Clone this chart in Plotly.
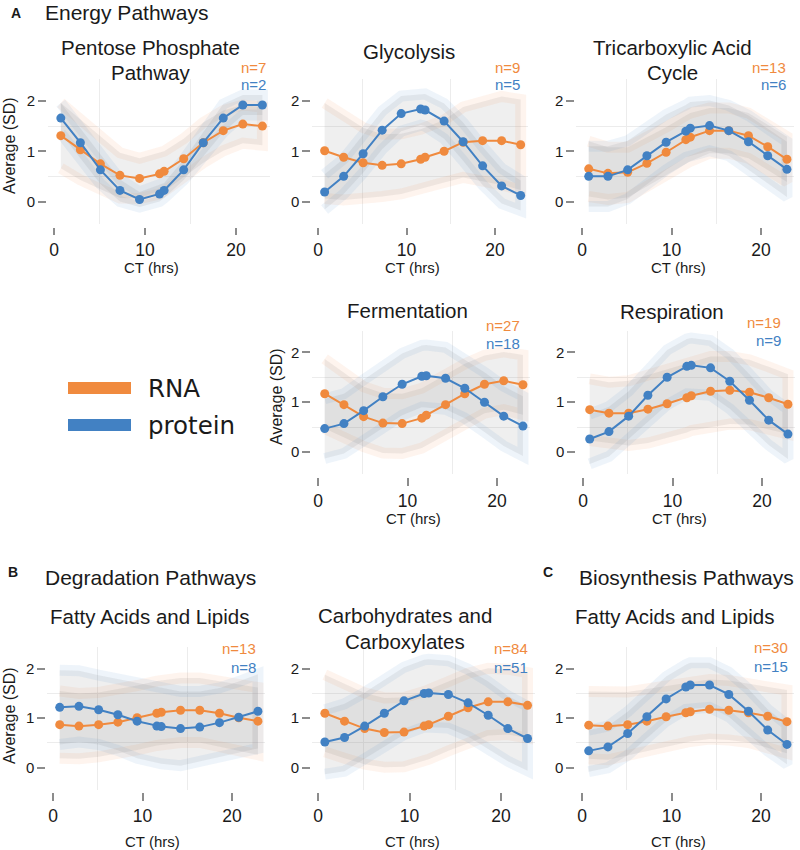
import plotly.graph_objects as go

W, H = 800, 850
ORANGE = "#F08A3E"
BLUE = "#4281C3"
ORANGE_FRINGE = "rgba(240,138,62,0.09)"
BLUE_FRINGE = "rgba(66,129,195,0.09)"
BAND_FILL = "rgba(110,110,110,0.115)"
TEXT = "#1a1a1a"
GRID = "#ececec"
TICK = "#8c8c8c"
FONT = "Liberation Sans, Arial, sans-serif"

# ---------------- data ----------------
ct_hours = [0.75, 2.9, 5.1, 7.25, 9.4, 11.6, 12.1, 14.25, 16.4, 18.6, 20.75, 22.9]
x_ticks = [0, 10, 20]
y_ticks = [0, 1, 2]

panel_titles = [
    ["Pentose Phosphate", "Pathway"], ["Glycolysis"], ["Tricarboxylic Acid", "Cycle"],
    ["Fermentation"], ["Respiration"],
    ["Fatty Acids and Lipids"], ["Carbohydrates and", "Carboxylates"], ["Fatty Acids and Lipids"],
]
n_rna = [7, 9, 13, 27, 19, 13, 84, 30]
n_protein = [2, 5, 6, 18, 9, 8, 51, 15]

rna_ppp = [1.31, 1.03, 0.75, 0.52, 0.46, 0.55, 0.60, 0.85, 1.17, 1.41, 1.54, 1.50]
rna_ppp_sd = [0.65, 0.6, 0.52, 0.45, 0.4, 0.4, 0.4, 0.4, 0.4, 0.4, 0.38, 0.38]
prot_ppp = [1.66, 1.17, 0.63, 0.22, 0.04, 0.15, 0.22, 0.63, 1.17, 1.66, 1.92, 1.92]
prot_ppp_sd = [0.3, 0.3, 0.28, 0.22, 0.15, 0.15, 0.15, 0.2, 0.25, 0.28, 0.2, 0.2]

rna_gly = [1.01, 0.88, 0.77, 0.72, 0.75, 0.84, 0.88, 1.0, 1.18, 1.21, 1.21, 1.13]
rna_gly_sd = [0.95, 0.85, 0.7, 0.62, 0.6, 0.6, 0.6, 0.62, 0.7, 0.8, 0.88, 0.9]
prot_gly = [0.19, 0.5, 0.95, 1.42, 1.75, 1.84, 1.82, 1.6, 1.19, 0.71, 0.31, 0.12]
prot_gly_sd = [0.35, 0.35, 0.38, 0.38, 0.35, 0.32, 0.32, 0.35, 0.38, 0.38, 0.35, 0.3]

rna_tca = [0.65, 0.56, 0.58, 0.76, 0.98, 1.23, 1.28, 1.41, 1.41, 1.31, 1.09, 0.84]
rna_tca_sd = [0.55, 0.52, 0.5, 0.5, 0.5, 0.48, 0.48, 0.45, 0.45, 0.45, 0.45, 0.45]
prot_tca = [0.5, 0.5, 0.63, 0.91, 1.18, 1.4, 1.46, 1.51, 1.41, 1.19, 0.91, 0.64]
prot_tca_sd = [0.6, 0.6, 0.58, 0.55, 0.55, 0.52, 0.52, 0.5, 0.5, 0.52, 0.55, 0.55]

rna_fer = [1.17, 0.95, 0.71, 0.58, 0.57, 0.68, 0.74, 0.95, 1.17, 1.36, 1.43, 1.35]
rna_fer_sd = [0.7, 0.65, 0.6, 0.6, 0.6, 0.6, 0.6, 0.6, 0.6, 0.58, 0.58, 0.6]
prot_fer = [0.47, 0.57, 0.83, 1.11, 1.36, 1.52, 1.53, 1.48, 1.28, 1.0, 0.72, 0.52]
prot_fer_sd = [0.6, 0.6, 0.62, 0.62, 0.62, 0.62, 0.62, 0.62, 0.6, 0.6, 0.6, 0.6]

rna_res = [0.85, 0.78, 0.78, 0.86, 0.97, 1.09, 1.13, 1.22, 1.24, 1.2, 1.09, 0.96]
rna_res_sd = [0.62, 0.62, 0.65, 0.68, 0.7, 0.7, 0.7, 0.7, 0.68, 0.65, 0.62, 0.6]
prot_res = [0.26, 0.41, 0.72, 1.14, 1.5, 1.72, 1.74, 1.69, 1.42, 1.04, 0.64, 0.36]
prot_res_sd = [0.5, 0.5, 0.5, 0.52, 0.55, 0.55, 0.55, 0.55, 0.55, 0.52, 0.5, 0.5]

rna_dfa = [0.87, 0.84, 0.87, 0.92, 1.01, 1.1, 1.12, 1.16, 1.16, 1.1, 1.01, 0.94]
rna_dfa_sd = [0.68, 0.66, 0.65, 0.65, 0.65, 0.65, 0.65, 0.65, 0.65, 0.65, 0.66, 0.68]
prot_dfa = [1.22, 1.24, 1.17, 1.07, 0.94, 0.84, 0.83, 0.79, 0.82, 0.91, 1.02, 1.14]
prot_dfa_sd = [0.75, 0.72, 0.7, 0.72, 0.75, 0.75, 0.75, 0.75, 0.72, 0.7, 0.72, 0.75]

rna_cho = [1.1, 0.94, 0.79, 0.71, 0.72, 0.84, 0.87, 1.04, 1.21, 1.33, 1.33, 1.26]
rna_cho_sd = [0.78, 0.75, 0.72, 0.7, 0.7, 0.7, 0.7, 0.7, 0.7, 0.68, 0.66, 0.66]
prot_cho = [0.52, 0.61, 0.84, 1.1, 1.35, 1.5, 1.51, 1.48, 1.31, 1.06, 0.79, 0.59]
prot_cho_sd = [0.65, 0.68, 0.68, 0.68, 0.68, 0.68, 0.68, 0.68, 0.68, 0.68, 0.66, 0.65]

rna_bfa = [0.86, 0.84, 0.87, 0.94, 1.03, 1.11, 1.13, 1.18, 1.16, 1.11, 1.04, 0.93]
rna_bfa_sd = [0.68, 0.68, 0.66, 0.65, 0.62, 0.6, 0.6, 0.6, 0.6, 0.6, 0.62, 0.64]
prot_bfa = [0.34, 0.42, 0.69, 1.03, 1.39, 1.63, 1.67, 1.67, 1.48, 1.14, 0.76, 0.47]
prot_bfa_sd = [0.42, 0.42, 0.44, 0.45, 0.45, 0.45, 0.45, 0.45, 0.45, 0.45, 0.42, 0.4]

rna_means = [rna_ppp, rna_gly, rna_tca, rna_fer, rna_res, rna_dfa, rna_cho, rna_bfa]
rna_sds = [rna_ppp_sd, rna_gly_sd, rna_tca_sd, rna_fer_sd, rna_res_sd, rna_dfa_sd, rna_cho_sd, rna_bfa_sd]
prot_means = [prot_ppp, prot_gly, prot_tca, prot_fer, prot_res, prot_dfa, prot_cho, prot_bfa]
prot_sds = [prot_ppp_sd, prot_gly_sd, prot_tca_sd, prot_fer_sd, prot_res_sd, prot_dfa_sd, prot_cho_sd, prot_bfa_sd]

# ---------------- layout geometry (page pixels) ----------------
XR = [-0.7, 23.7]
YR = [-0.45, 2.43]
panel_row = [0, 0, 0, 1, 1, 2, 2, 2]
zero_x_px = [54, 318, 582, 318, 583, 53, 318, 582]
scale_x_px = [9.1, 8.85, 8.95, 8.95, 8.95, 8.95, 9.15, 8.95]
row_zero_y = [201.5, 452, 767.7]
row_scale_y = [50.25, 49.8, 49.5]
row_ticklen = [7, 8, 8]

title_cx = [150, 409, 672, 407, 671.5, 149, 405, 674]
title_y = [[47.5, 72], [51], [47.5, 72.5], [310.5], [311.5], [616.5], [615, 641.5], [616.5]]
n_right_x = [268, 522, 788, 522, 783, 258, 530, 790]
n_rna_y = [67, 67, 67, 325, 322, 648, 648, 647]
n_prot_y = [85, 85, 85, 343, 341, 667, 667, 666]
xtitle_cx = [151, 412, 678, 413, 679, 152, 412.5, 678.5]
xtitle_y = [267, 267, 267, 518, 518, 841, 841, 841]
ytitle_panels = {0: (9, 146), 3: (276, 397), 5: (9, 716)}


def px_x(px):
    return px / W


def px_y(py):
    return 1 - py / H


fig = go.Figure()
annotations = []
shapes = []
layout_axes = {}

for i in range(8):
    suf = "" if i == 0 else str(i + 1)
    xa, ya = "x" + suf, "y" + suf
    r = panel_row[i]
    left = zero_x_px[i] + XR[0] * scale_x_px[i]
    right = zero_x_px[i] + XR[1] * scale_x_px[i]
    top = row_zero_y[r] - YR[1] * row_scale_y[r]
    bottom = row_zero_y[r] - YR[0] * row_scale_y[r]

    series = [
        (rna_means[i], rna_sds[i], ORANGE, ORANGE_FRINGE),
        (prot_means[i], prot_sds[i], BLUE, BLUE_FRINGE),
    ]
    for mean, sd, col, fringe in series:
        upper = [m + s for m, s in zip(mean, sd)]
        lower = [m - s for m, s in zip(mean, sd)]
        fig.add_trace(go.Scatter(
            x=ct_hours + ct_hours[::-1], y=upper + lower[::-1],
            fill="toself", fillcolor=BAND_FILL, mode="lines",
            line=dict(color=fringe, width=11), hoverinfo="skip",
            showlegend=False, xaxis=xa, yaxis=ya))
    for mean, sd, col, fringe in series:
        fig.add_trace(go.Scatter(
            x=ct_hours, y=mean, mode="lines+markers",
            line=dict(color=col, width=2), marker=dict(color=col, size=9),
            showlegend=False, xaxis=xa, yaxis=ya))

    layout_axes["xaxis" + suf] = dict(
        domain=[px_x(left), px_x(right)], range=XR, anchor="free",
        position=px_y(bottom + 2.5), tickmode="array", tickvals=x_ticks,
        ticks="outside", ticklen=row_ticklen[r], tickwidth=2, tickcolor=TICK,
        tickfont=dict(size=17.5, color=TEXT, family=FONT),
        showgrid=False, zeroline=False, showline=False, fixedrange=True,
        minor=dict(tickmode="array", tickvals=[5, 15], showgrid=True,
                   gridcolor=GRID, gridwidth=1, ticks=""))
    layout_axes["yaxis" + suf] = dict(
        domain=[px_y(bottom), px_y(top)], range=YR, anchor="free",
        position=px_x(left - 1.5), tickmode="array", tickvals=y_ticks,
        ticks="outside", ticklen=8, tickwidth=2, tickcolor=TICK,
        tickfont=dict(size=15, color=TEXT, family=FONT),
        showgrid=False, zeroline=False, showline=False, fixedrange=True,
        minor=dict(tickmode="array", tickvals=[0.5, 1.5], showgrid=True,
                   gridcolor=GRID, gridwidth=1, ticks=""))

    for line, ty in zip(panel_titles[i], title_y[i]):
        annotations.append(dict(text=line, x=px_x(title_cx[i]), y=px_y(ty),
                                xref="paper", yref="paper", xanchor="center", yanchor="middle",
                                showarrow=False, font=dict(size=20.5, color=TEXT, family=FONT)))
    annotations.append(dict(text=f"n={n_rna[i]}", x=px_x(n_right_x[i]), y=px_y(n_rna_y[i]),
                            xref="paper", yref="paper", xanchor="right", yanchor="middle",
                            showarrow=False, font=dict(size=15, color=ORANGE, family=FONT)))
    annotations.append(dict(text=f"n={n_protein[i]}", x=px_x(n_right_x[i]), y=px_y(n_prot_y[i]),
                            xref="paper", yref="paper", xanchor="right", yanchor="middle",
                            showarrow=False, font=dict(size=15, color=BLUE, family=FONT)))
    annotations.append(dict(text="CT (hrs)", x=px_x(xtitle_cx[i]), y=px_y(xtitle_y[i]),
                            xref="paper", yref="paper", xanchor="center", yanchor="middle",
                            showarrow=False, font=dict(size=15, color=TEXT, family=FONT)))
    if i in ytitle_panels:
        tx, tyy = ytitle_panels[i]
        annotations.append(dict(text="Average (SD)", x=px_x(tx), y=px_y(tyy), textangle=-90,
                                xref="paper", yref="paper", xanchor="center", yanchor="middle",
                                showarrow=False, font=dict(size=16, color=TEXT, family=FONT)))

# section headers
sections = [("A", 16, 13, "Energy Pathways", 43, 13),
            ("B", 13, 572, "Degradation Pathways", 43, 577),
            ("C", 548, 572, "Biosynthesis Pathways", 577, 577)]
for letter, lx, ly, name, nx, ny in sections:
    annotations.append(dict(text=f"<b>{letter}</b>", x=px_x(lx), y=px_y(ly), xref="paper", yref="paper",
                            xanchor="center", yanchor="middle", showarrow=False,
                            font=dict(size=14, color=TEXT, family=FONT)))
    annotations.append(dict(text=name, x=px_x(nx), y=px_y(ny), xref="paper", yref="paper",
                            xanchor="left", yanchor="middle", showarrow=False,
                            font=dict(size=21, color=TEXT, family=FONT)))

# legend
legend_items = [("RNA", ORANGE, 382, 394, 388), ("protein", BLUE, 419, 431, 425)]
for name, col, y0, y1, ty in legend_items:
    shapes.append(dict(type="rect", xref="paper", yref="paper", x0=px_x(68), x1=px_x(131),
                       y0=px_y(y1), y1=px_y(y0), fillcolor=col, line=dict(width=0)))
    annotations.append(dict(text=name, x=px_x(146), y=px_y(ty), xref="paper", yref="paper",
                            xanchor="left", yanchor="middle", showarrow=False,
                            font=dict(size=24.5, color=TEXT, family="DejaVu Sans, sans-serif")))

fig.update_layout(
    width=W, height=H, margin=dict(l=0, r=0, t=0, b=0),
    paper_bgcolor="white", plot_bgcolor="white",
    showlegend=False, annotations=annotations, shapes=shapes,
    **layout_axes)

# remove the browser's default 8px page margin so the 800x850 figure fills the window
fig.write_html("out.html", config={"displayModeBar": False},
               post_script="document.body.style.margin='0';")
